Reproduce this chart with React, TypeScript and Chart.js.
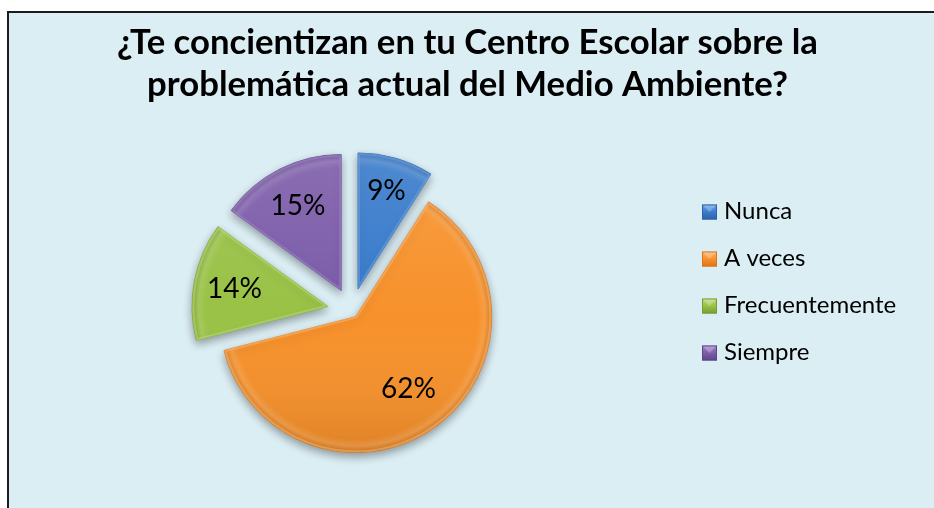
import React, { useEffect, useRef } from 'react';
import { Chart, registerables } from 'chart.js';

Chart.register(...registerables);

// ---- data ----
const titleLines = ['¿Te concientizan en tu Centro Escolar sobre la', 'problemática actual del Medio Ambiente?'];
const categories = ['Nunca', 'A veces', 'Frecuentemente', 'Siempre'];
const values = [9, 62, 14, 15];

// ---- styles ----
const COLORS = ['#3A7CCB', '#F7912B', '#99C246', '#7D5DAA'];
const LIGHT = ['#6BA3E4', '#FBB46C', '#BAD97A', '#A083C8'];
const DARK = ['#2C62A8', '#DA7419', '#779C30', '#5F4589'];
const EXPLODE = [23, 7, 24, 23];
const LABEL_R = [0.75, 0.66, 0.7, 0.7];
const RADIUS = 136;
const FONT = 'Lato, "Open Sans", sans-serif';
const BG = '#DBEEF4';

const W = 934;
const H = 508;
const CX = 351.6;
const CY = 311;

const framePlugin = {
  id: 'frame',
  beforeDraw(chart: any) {
    const ctx = chart.ctx;
    ctx.save();
    ctx.fillStyle = '#ffffff';
    ctx.fillRect(0, 0, W, H);
    ctx.fillStyle = BG;
    ctx.fillRect(8, 12, W, H);
    ctx.fillStyle = '#1c1c1c';
    ctx.fillRect(7, 11, 2, H);
    ctx.fillRect(7, 11, W, 2);
    ctx.restore();
  },
};

function sliceOffset(arc: any, i: number) {
  const mid = (arc.startAngle + arc.endAngle) / 2;
  const d = EXPLODE[i] || 0;
  return [Math.cos(mid) * d, Math.sin(mid) * d];
}

const explodedPiePlugin = {
  id: 'explodedPie',
  beforeDatasetDraw(chart: any, args: any) {
    const ctx = chart.ctx;
    const arcs = args.meta.data;
    arcs.forEach((arc: any, i: number) => {
      const [dx, dy] = sliceOffset(arc, i);
      ctx.save();
      ctx.translate(dx, dy);
      ctx.shadowColor = 'rgba(0,0,0,0.35)';
      ctx.shadowBlur = 9;
      ctx.shadowOffsetX = 0;
      ctx.shadowOffsetY = 4;
      arc.draw(ctx);
      ctx.restore();
    });
    arcs.forEach((arc: any, i: number) => {
      const [dx, dy] = sliceOffset(arc, i);
      ctx.save();
      ctx.translate(dx, dy);
      const r = arc.outerRadius;
      const orig = arc.options;
      const lg = ctx.createLinearGradient(0, arc.y - r, 0, arc.y + r);
      lg.addColorStop(0, 'rgba(255,255,255,0.10)');
      lg.addColorStop(0.5, 'rgba(255,255,255,0.0)');
      lg.addColorStop(1, 'rgba(0,0,0,0.10)');
      arc.options = { ...orig, backgroundColor: lg, borderWidth: 0 };
      arc.draw(ctx);
      const rg = ctx.createRadialGradient(arc.x, arc.y, r * 0.9, arc.x, arc.y, r);
      rg.addColorStop(0, 'rgba(255,255,255,0)');
      rg.addColorStop(0.5, 'rgba(255,255,255,0.12)');
      rg.addColorStop(1, 'rgba(0,0,0,0.10)');
      arc.options = { ...orig, backgroundColor: rg, borderWidth: 0 };
      arc.draw(ctx);
      arc.options = { ...orig, backgroundColor: 'rgba(0,0,0,0)', borderColor: LIGHT[i], borderWidth: 2, borderAlign: 'inner' };
      ctx.globalAlpha = 0.55;
      arc.draw(ctx);
      ctx.globalAlpha = 1;
      arc.options = orig;
      ctx.restore();
    });
    return false;
  },
  afterDatasetsDraw(chart: any) {
    const ctx = chart.ctx;
    const meta = chart.getDatasetMeta(0);
    const arcs = meta.data;
    const total = values.reduce((a, b) => a + b, 0);
    ctx.save();
    ctx.fillStyle = '#000000';
    ctx.font = `28px ${FONT}`;
    ctx.textAlign = 'center';
    ctx.textBaseline = 'middle';
    arcs.forEach((arc: any, i: number) => {
      const mid = (arc.startAngle + arc.endAngle) / 2;
      const dist = (EXPLODE[i] || 0) + LABEL_R[i] * arc.outerRadius;
      const x = arc.x + Math.cos(mid) * dist;
      const y = arc.y + Math.sin(mid) * dist;
      const pct = Math.round((values[i] / total) * 100) + '%';
      ctx.fillText(pct, x, y);
    });
    ctx.restore();
  },
};

const titleLegendPlugin = {
  id: 'titleLegend',
  afterDraw(chart: any) {
    const ctx = chart.ctx;
    ctx.save();
    ctx.font = `bold 100px ${FONT}`;
    const w100 = ctx.measureText(titleLines[0]).width;
    const size = (100 * 701) / w100;
    ctx.font = `bold ${size.toFixed(2)}px ${FONT}`;
    ctx.fillStyle = '#000000';
    ctx.textAlign = 'center';
    ctx.textBaseline = 'alphabetic';
    ctx.fillText(titleLines[0], 467.5, 54);
    ctx.fillText(titleLines[1], 467.5, 96);

    ctx.font = `24px ${FONT}`;
    ctx.textAlign = 'left';
    const rowY = [212, 259, 306, 353];
    categories.forEach((label, i) => {
      const cy = rowY[i];
      const x0 = 702;
      const y0 = cy - 7.5;
      const g = ctx.createLinearGradient(0, y0, 0, y0 + 15);
      g.addColorStop(0, LIGHT[i]);
      g.addColorStop(0.5, COLORS[i]);
      g.addColorStop(1, DARK[i]);
      ctx.fillStyle = g;
      ctx.fillRect(x0, y0, 15, 15);
      ctx.strokeStyle = DARK[i];
      ctx.lineWidth = 1;
      ctx.strokeRect(x0 + 0.5, y0 + 0.5, 14, 14);
      ctx.fillStyle = 'rgba(255,255,255,0.25)';
      ctx.beginPath();
      ctx.moveTo(x0 + 1, y0 + 1);
      ctx.lineTo(x0 + 14, y0 + 1);
      ctx.lineTo(x0 + 7.5, y0 + 7.5);
      ctx.closePath();
      ctx.fill();
      ctx.fillStyle = '#000000';
      ctx.fillText(label, 724, cy + 7);
    });
    ctx.restore();
  },
};

export default function App() {
  const canvasRef = useRef<HTMLCanvasElement | null>(null);

  useEffect(() => {
    const canvas = canvasRef.current;
    if (!canvas) return;
    const padLeft = 215;
    const padTop = 175;
    const chart = new Chart(canvas, {
      type: 'pie',
      data: {
        labels: categories,
        datasets: [
          {
            data: values,
            backgroundColor: COLORS,
            borderColor: DARK,
            borderWidth: 0.8,
            clip: false,
          } as any,
        ],
      },
      options: {
        responsive: false,
        animation: false,
        devicePixelRatio: 1,
        events: [],
        radius: RADIUS,
        layout: {
          padding: {
            left: padLeft,
            right: W - (2 * CX - padLeft),
            top: padTop,
            bottom: H - (2 * CY - padTop),
          },
        },
        plugins: {
          legend: { display: false },
          title: { display: false },
          tooltip: { enabled: false },
        },
      } as any,
      plugins: [framePlugin, explodedPiePlugin, titleLegendPlugin],
    });
    return () => chart.destroy();
  }, []);

  return (
    <div style={{ position: 'fixed', left: 0, top: 0, width: '100vw', height: '100vh', overflow: 'hidden', background: BG }}>
      <canvas ref={canvasRef} width={W} height={H} style={{ width: W, height: H, display: 'block' }} />
    </div>
  );
}
